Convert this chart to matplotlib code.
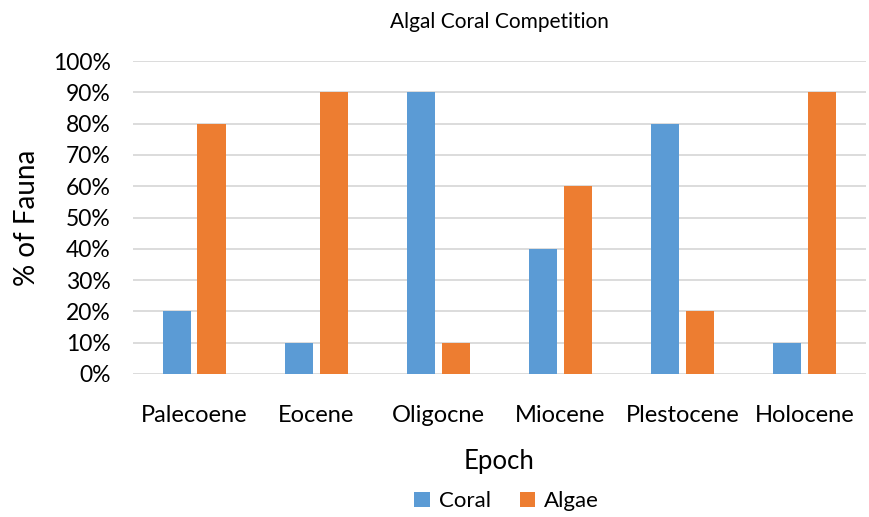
import matplotlib.pyplot as plt
import numpy as np
from matplotlib.ticker import PercentFormatter

epochs = ["Palecoene", "Eocene", "Oligocne", "Miocene", "Plestocene", "Holocene"]
coral = [20, 10, 90, 40, 80, 10]
algae = [80, 90, 10, 60, 20, 90]

plt.rcParams['font.family'] = ['Lato', 'DejaVu Sans']

fig = plt.figure(figsize=(8.69, 5.17), dpi=100)
ax = fig.add_axes([0.153, 0.2766, 0.8435, 0.6054])

x = np.arange(len(epochs))
w = 0.23
ax.bar(x - 0.143, coral, w, color="#5b9bd5", label="Coral", zorder=3)
ax.bar(x + 0.143, algae, w, color="#ed7d31", label="Algae", zorder=3)

ax.set_xlim(-0.5, len(epochs) - 0.5)
ax.set_ylim(0, 100)
ax.set_yticks(range(0, 101, 10))
ax.yaxis.set_major_formatter(PercentFormatter(decimals=0))
ax.grid(axis="y", color="#d9d9d9", linewidth=1.3, zorder=0)
ax.set_xticks(x)
ax.set_xticklabels(epochs)
ax.tick_params(length=0, colors="#000000")
ax.tick_params(axis="x", pad=22, labelsize=17)
ax.tick_params(axis="y", pad=16, labelsize=16.5)
for s in ax.spines.values():
    s.set_visible(False)

ax.set_title("Algal Coral Competition", fontsize=15, pad=24)
ax.set_xlabel("Epoch", fontsize=18.5, labelpad=17)
ax.set_ylabel("% of Fauna", fontsize=20, labelpad=9)

fig.legend(loc="lower center", ncol=2, frameon=False, fontsize=16,
           bbox_to_anchor=(0.583, -0.028), handlelength=0.7, handleheight=0.7,
           columnspacing=1.3, handletextpad=0.4)

fig.savefig("out.png", dpi=100)
